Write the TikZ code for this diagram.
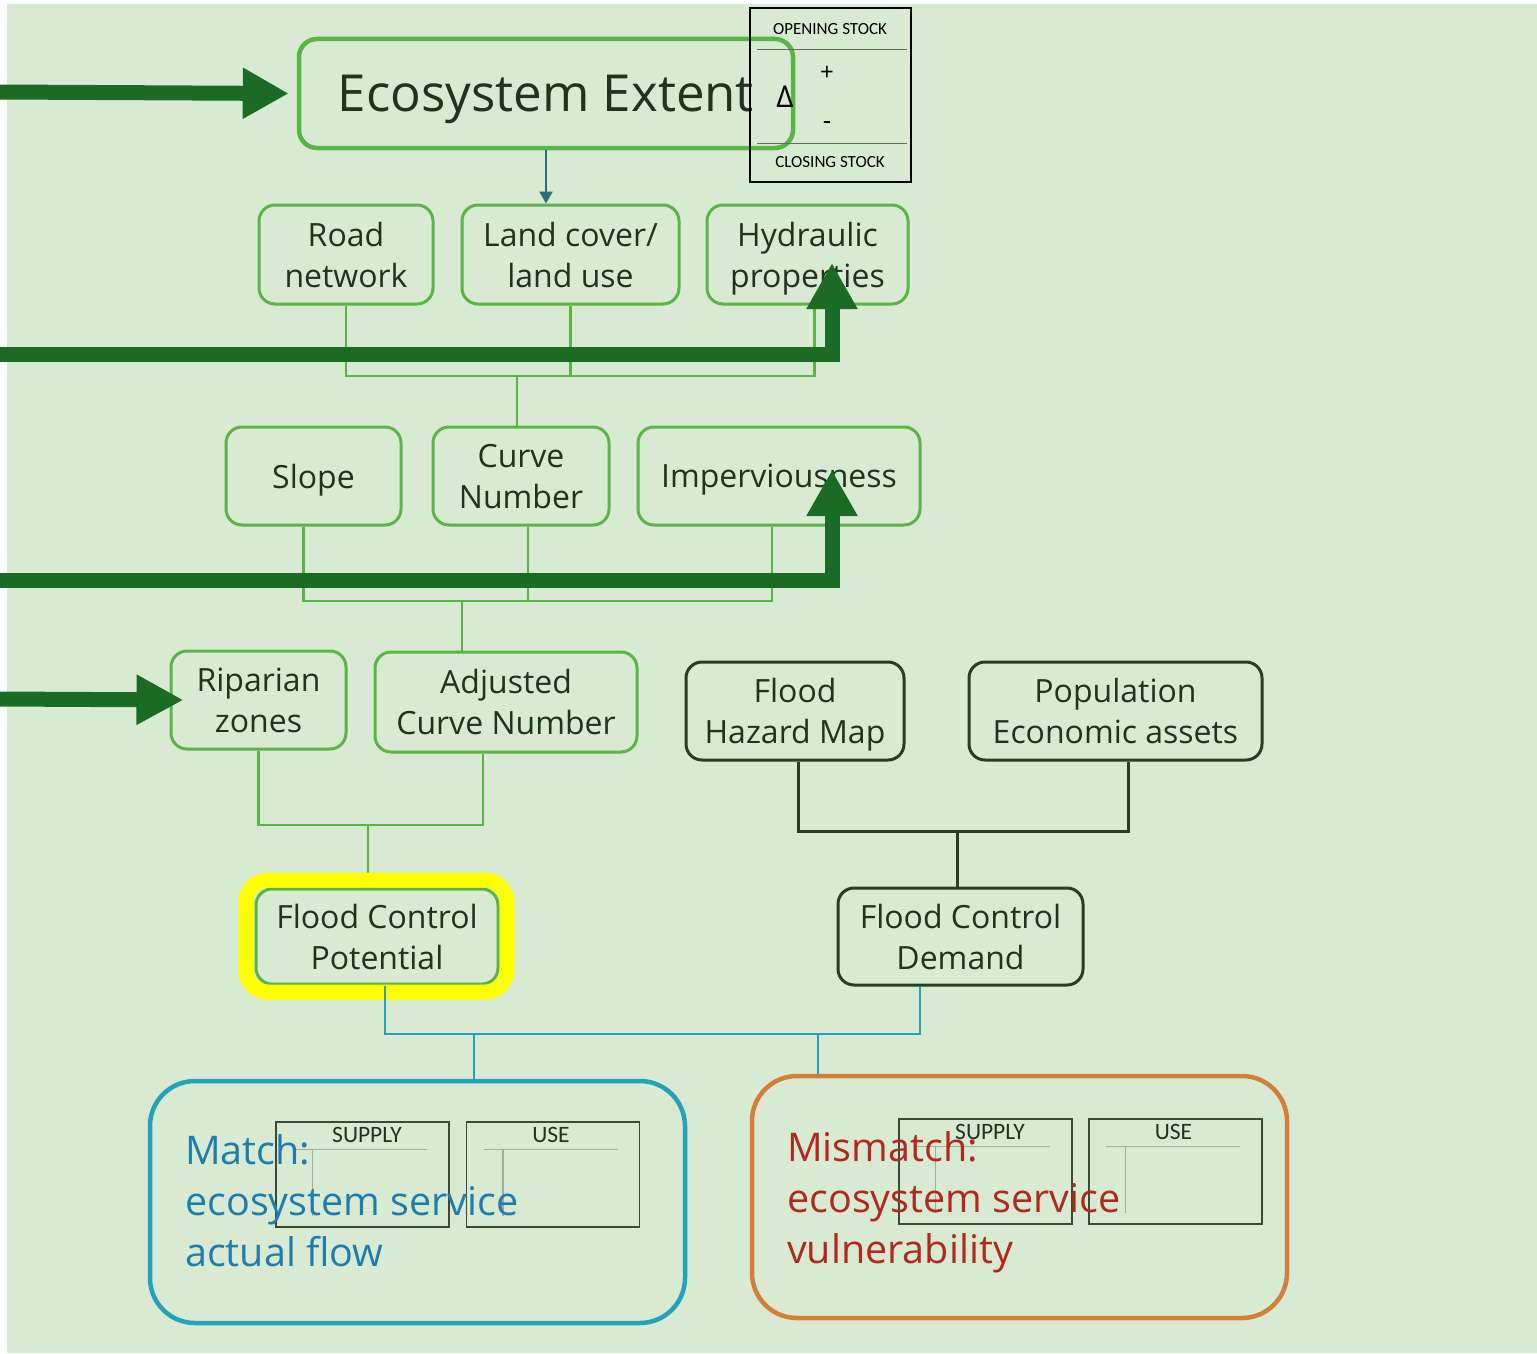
\documentclass[tikz,border=0pt]{standalone}
\usepackage{fontspec}
\setmainfont{Open Sans}
\newfontfamily\calib{Carlito}
\usetikzlibrary{arrows.meta}

\definecolor{bg}{HTML}{D9EAD3}
\definecolor{boxgreen}{HTML}{5BB446}
\definecolor{flowgreen}{HTML}{1B6B25}
\definecolor{inkdark}{HTML}{1F3320}
\definecolor{framedark}{HTML}{263D28}
\definecolor{tealframe}{HTML}{23A2B9}
\definecolor{linkteal}{HTML}{2A7077}
\definecolor{orangeframe}{HTML}{D27F38}
\definecolor{matchblue}{HTML}{1F7DAE}
\definecolor{mismatchred}{HTML}{B2281C}
\definecolor{hilite}{HTML}{FFFF00}
\definecolor{tickgray}{HTML}{9DB096}
\definecolor{tablegray}{HTML}{3A4A38}

\begin{document}
\begin{tikzpicture}[x=1pt,y=-1pt,
  gbox/.style={draw=boxgreen,line width=3pt,rounded corners=16pt,inner sep=0pt,
    align=center,text=inkdark,text depth=0pt,font=\fontsize{32}{41}\selectfont},
  dbox/.style={gbox,draw=framedark},
  gline/.style={draw=boxgreen,line width=2.4pt},
  dline/.style={draw=framedark,line width=3pt},
  tline/.style={draw=tealframe,line width=2.6pt},
  flow/.style={draw=flowgreen,line width=15pt,-{Triangle[length=46pt,width=48pt]}},
  bigbox/.style={line width=4.5pt,rounded corners=45pt,inner sep=0pt,
    minimum width=535pt,minimum height=242pt},
  outcome/.style={anchor=west,align=left,inner sep=0pt,font=\fontsize{39.5}{51}\selectfont},
  tablebox/.style={draw=tablegray,line width=1.4pt,inner sep=0pt,
    minimum width=173pt,minimum height=105pt},
  tablehead/.style={inner sep=0pt,text=inkdark,font=\calib\fontsize{23.5}{25}\selectfont},
  tick/.style={draw=tickgray,line width=1.5pt},
  stocktxt/.style={inner sep=0pt,font=\calib\fontsize{17}{19}\selectfont}
]
\useasboundingbox (0,0) rectangle (1537,1354);
\fill[bg] (7,4) rectangle (1537,1353);

% ---------- ecosystem extent and stock account ----------
\node[gbox,line width=4.5pt,rounded corners=18pt,minimum width=494pt,minimum height=109pt,
  font=\fontsize{51}{60}\selectfont] (ee) at (546,93.5) {Ecosystem Extent};

\draw[black,line width=1.2pt] (750,8) rectangle (911,182);
\draw[gray!80!black,line width=1pt] (757,50) -- (907,50) (757,143) -- (907,143);
\node[stocktxt] (open) at (830,29) {OPENING STOCK};
\node[stocktxt] (close) at (830,162) {CLOSING STOCK};
\node[inner sep=0pt,font=\fontsize{30}{32}\selectfont] (delta) at (785,97) {Δ};
\node[inner sep=0pt,font=\fontsize{24}{26}\selectfont] (plus) at (827,73) {+};
\node[inner sep=0pt,font=\fontsize{26}{28}\selectfont] (minus) at (827,126) {-};

% ---------- first input layer ----------
\node[gbox,minimum width=174pt,minimum height=99pt] (road) at (346,254.5) {Road\\network};
\node[gbox,minimum width=217pt,minimum height=99pt] (land) at (570.5,254.5) {Land cover/\\land use};
\node[gbox,minimum width=201pt,minimum height=99pt] (hyd) at (807.5,254.5) {Hydraulic\\properties};

\draw[draw=linkteal,line width=2.6pt,-{Triangle[length=12pt,width=13pt]}]
  (ee.south) -- (ee.south |- land.north);

% ---------- derived layer ----------
\node[gbox,minimum width=175pt,minimum height=98pt] (slope) at (313.5,476) {Slope};
\node[gbox,minimum width=176pt,minimum height=98pt] (cn) at (521,476) {Curve\\Number};
\node[gbox,minimum width=282pt,minimum height=98pt] (imp) at (779,476) {Imperviousness};

\coordinate (busA) at (517,376);
\draw[gline] (road.south) |- (busA);
\draw[gline] ([xshift=7pt]hyd.south) |- (busA);
\draw[gline] (land.south) -- (land.south |- busA);
\draw[gline] (busA) -- (busA |- cn.north);

% ---------- supply side ----------
\node[gbox,minimum width=175pt,minimum height=98pt] (rip) at (258.5,700) {Riparian\\zones};
\node[gbox,minimum width=262pt,minimum height=100pt] (adj) at (506,702) {Adjusted\\Curve Number};

\coordinate (busB) at (462,601);
\draw[gline] ([xshift=-10pt]slope.south) |- (busB);
\draw[gline] ([xshift=-7pt]imp.south) |- (busB);
\draw[gline] ([xshift=7pt]cn.south) -- ([xshift=7pt]cn.south |- busB);
\draw[gline] (busB) -- (busB |- adj.north);

\node[gbox,minimum width=242pt,minimum height=95pt] (fcp) at (377,936.5) {Flood Control\\Potential};
\coordinate (busC) at (368,825);
\draw[gline] (rip.south) |- (busC);
\draw[gline] ([xshift=-23pt]adj.south) |- (busC);
\draw[gline] (busC) -- (busC |- fcp.north);
\draw[hilite,line width=15pt,rounded corners=22pt] (246,880) rectangle (507,992);

% ---------- demand side ----------
\node[dbox,minimum width=218pt,minimum height=98pt] (haz) at (795,711) {Flood\\Hazard Map};
\node[dbox,minimum width=293pt,minimum height=98pt] (pop) at (1115.5,711) {Population\\Economic assets};
\node[dbox,minimum width=245pt,minimum height=97pt] (dem) at (960.5,936.5) {Flood Control\\Demand};

\coordinate (busD) at (957,831);
\draw[dline] ([xshift=3pt]haz.south) |- (busD);
\draw[dline] ([xshift=12.5pt]pop.south) |- (busD);
\draw[dline] (busD) -- (busD |- dem.north);

% ---------- outcomes ----------
\node[bigbox,draw=tealframe] (matchbox) at (417.5,1202) {};
\node[bigbox,draw=orangeframe] (misbox) at (1019.5,1197) {};

\coordinate (busE) at (474,1034);
\coordinate (busF) at (818,1034);
\draw[tline] ([xshift=8pt]fcp.south) |- (busE);
\draw[tline] ([xshift=-40.5pt]dem.south) |- (busE);
\draw[tline] (busE) -- (busE |- matchbox.north);
\draw[tline] (busF) -- (busF |- misbox.north);

% supply and use tables
\foreach \nm/\lab/\dx/\cx/\cy in {supA/SUPPLY/4.5/362.5/1174.5, useA/USE/-2/553/1174.5,
                                  supB/SUPPLY/4.5/985.5/1171.5, useB/USE/-2/1175.5/1171.5}{
  \node[tablebox] (\nm) at (\cx,\cy) {};
  \node[tablehead] (\nm-head) at ([xshift=\dx pt,yshift=-14pt]\nm.north) {\lab};
  \draw[tick] ([xshift=18pt,yshift=-28pt]\nm.north west) -- ([xshift=152pt,yshift=-28pt]\nm.north west);
  \draw[tick] ([xshift=37pt,yshift=-28pt]\nm.north west) -- ([xshift=37pt,yshift=-95pt]\nm.north west);
}

\node[outcome,text=matchblue] (matchtxt) at (185,1201) {Match:\\ecosystem service\\actual flow};
\node[outcome,text=mismatchred] (mistxt) at (787,1202) {Mismatch:\\ecosystem service\\vulnerability};

% ---------- external inputs ----------
\coordinate (inEE) at (0,92);
\coordinate (inHyd) at (0,354.5);
\coordinate (tipHyd) at (832,263);
\coordinate (inImp) at (0,580);
\coordinate (tipImp) at (832,470);
\coordinate (inRip) at (0,699);
\draw[flow] (inEE) -- ([xshift=-8pt]ee.west);
\draw[flow] (inHyd) -| (tipHyd);
\draw[flow] (inImp) -| (tipImp);
\draw[flow,-{Triangle[length=47pt,width=47pt]}] (inRip) -- ([xshift=14pt]rip.west);
\end{tikzpicture}
\end{document}
